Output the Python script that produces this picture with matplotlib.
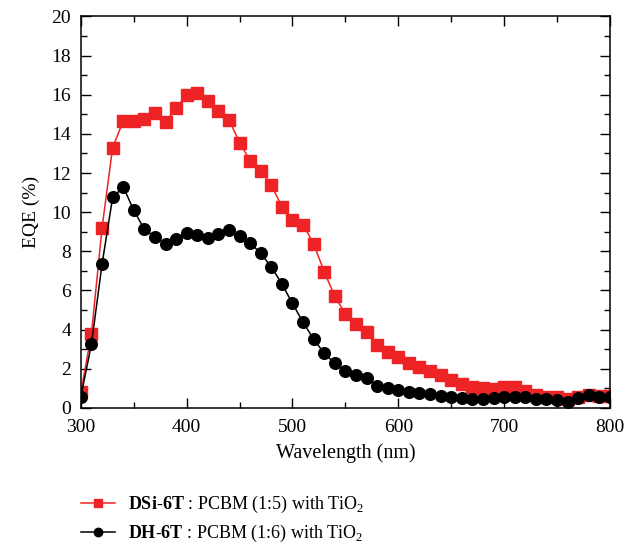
import numpy as np
import matplotlib.pyplot as plt

plt.rcParams['font.family'] = 'Liberation Serif'
plt.rcParams['mathtext.fontset'] = 'custom'
plt.rcParams['mathtext.rm'] = 'Liberation Serif'
plt.rcParams['mathtext.bf'] = 'Liberation Serif:bold'

wavelength = np.arange(300, 801, 10)

dsi_6t = [0.8, 3.8, 9.2, 13.3, 14.65, 14.65, 14.75, 15.07, 14.62, 15.3,
          16.0, 16.1, 15.68, 15.15, 14.73, 13.55, 12.63, 12.12, 11.38, 10.27,
          9.62, 9.36, 8.39, 6.95, 5.71, 4.80, 4.27, 3.86, 3.21, 2.87,
          2.59, 2.31, 2.08, 1.90, 1.70, 1.45, 1.22, 1.05, 1.0, 0.98,
          1.08, 1.05, 0.88, 0.66, 0.58, 0.54, 0.46, 0.54, 0.66, 0.6, 0.6]

dh_6t = [0.58, 3.27, 7.35, 10.75, 11.29, 10.1, 9.12, 8.74, 8.35, 8.61,
         8.95, 8.83, 8.66, 8.88, 9.08, 8.78, 8.44, 7.89, 7.21, 6.33,
         5.34, 4.37, 3.52, 2.79, 2.28, 1.90, 1.68, 1.51, 1.14, 1.0,
         0.92, 0.83, 0.75, 0.71, 0.62, 0.55, 0.49, 0.46, 0.46, 0.49,
         0.54, 0.58, 0.54, 0.46, 0.44, 0.41, 0.33, 0.49, 0.66, 0.58, 0.58]

label_dsi = r'$\mathbf{DSi}$' + '-' + r'$\mathbf{6T}$' + ' : PCBM (1:5) with TiO$_2$'
label_dh = r'$\mathbf{DH}$' + '-' + r'$\mathbf{6T}$' + ' : PCBM (1:6) with TiO$_2$'

fig = plt.figure(figsize=(6.42, 5.45), dpi=100)
ax = fig.add_axes([0.126, 0.2514, 0.824, 0.7186])

ax.plot(wavelength, dsi_6t, color='#ee2326', marker='s', markersize=8.2,
        linewidth=1.1, label=label_dsi)
ax.plot(wavelength, dh_6t, color='black', marker='o', markersize=8.4,
        linewidth=1.1, label=label_dh)

ax.set_xlim(300, 800)
ax.set_ylim(0, 20)
ax.set_xticks(np.arange(300, 801, 100))
ax.set_xticks(np.arange(350, 800, 100), minor=True)
ax.set_yticks(np.arange(0, 21, 2))
ax.set_yticks(np.arange(1, 20, 2), minor=True)
ax.tick_params(which='both', direction='in', top=True, right=True,
               labelsize=14, width=1)
ax.tick_params(axis='x', which='major', pad=8)
ax.tick_params(axis='y', which='major', pad=7)
ax.tick_params(which='major', length=7)
ax.tick_params(which='minor', length=4)
for s in ax.spines.values():
    s.set_linewidth(1.1)

ax.set_xlabel('Wavelength (nm)', fontsize=14.5, labelpad=5)
ax.set_ylabel('EQE (%)', fontsize=14, labelpad=8)

fig.legend(loc='upper left', bbox_to_anchor=(0.126, 0.094), frameon=False,
           fontsize=13, handlelength=1.9, handletextpad=0.7,
           labelspacing=0.45, borderpad=0, borderaxespad=0, markerscale=0.72)

plt.savefig('out.png', dpi=100)
